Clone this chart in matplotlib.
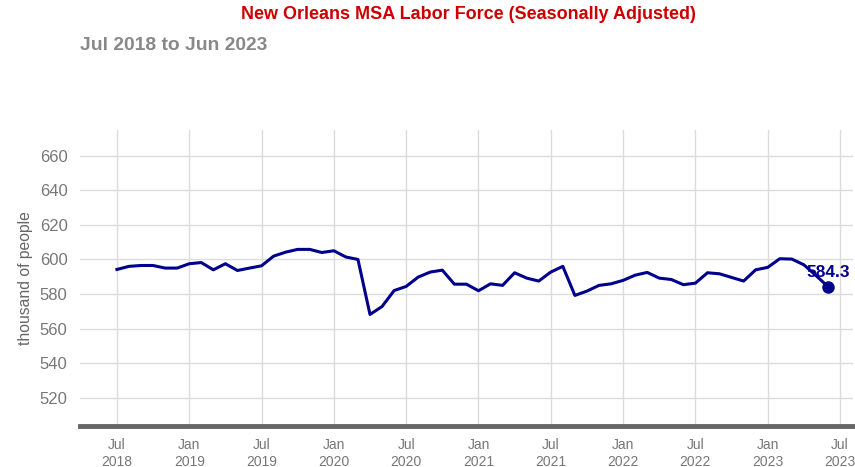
import matplotlib
matplotlib.use("Agg")
import matplotlib.pyplot as plt

plt.rcParams['font.family'] = ['Liberation Sans', 'DejaVu Sans']

# Monthly labor force, thousands, Jul 2018 - Jun 2023
labor_force = [
    594.2, 596.0, 596.5, 596.5, 595.0, 595.0,
    597.5, 598.2, 594.0, 597.5, 593.6, 595.0, 596.3, 601.9, 604.2, 605.8, 605.8, 604.0,
    605.0, 601.4, 600.0, 568.2, 572.8, 582.0, 584.4, 589.8, 592.7, 593.8, 585.7, 585.7,
    581.9, 585.9, 585.0, 592.3, 589.2, 587.5, 592.7, 596.0, 579.2, 581.7, 585.0, 585.9,
    587.9, 590.9, 592.5, 589.2, 588.4, 585.4, 586.3, 592.3, 591.7, 589.6, 587.5, 594.0,
    595.4, 600.4, 600.2, 596.9, 590.7, 584.3,
]
tick_pos = [0, 6, 12, 18, 24, 30, 36, 42, 48, 54, 60]
tick_labels = ["Jul\n2018", "Jan\n2019", "Jul\n2019", "Jan\n2020", "Jul\n2020",
               "Jan\n2021", "Jul\n2021", "Jan\n2022", "Jul\n2022", "Jan\n2023",
               "Jul\n2023"]
y_ticks = [520, 540, 560, 580, 600, 620, 640, 660]

line_color = "#00008B"
months = list(range(len(labor_force)))

fig = plt.figure(figsize=(8.55, 4.67), dpi=100)
ax = fig.add_axes([0.0936, 0.088, 0.9044, 0.6344])

ax.plot(months, labor_force, color=line_color, lw=2.2, solid_joinstyle="round", zorder=3)
ax.plot(months[-1], labor_force[-1], "o", color=line_color, ms=8, zorder=4)
ax.annotate(f"{labor_force[-1]:.1f}", (months[-1], labor_force[-1]),
            xytext=(0, 5), textcoords="offset points", ha="center", va="bottom",
            color=line_color, fontsize=12.5, fontweight="bold", zorder=5)

ax.set_xlim(-3.06, 61.1)
ax.set_ylim(503.8, 675.0)
ax.set_xticks(tick_pos)
ax.set_xticklabels(tick_labels)
ax.set_yticks(y_ticks)

ax.grid(True, color="#dcdcdc", lw=1.0)
ax.set_axisbelow(True)
for side in ("top", "right", "left"):
    ax.spines[side].set_visible(False)
ax.spines["bottom"].set_color("#666666")
ax.spines["bottom"].set_linewidth(3.5)

ax.tick_params(axis="x", length=0, pad=9, labelsize=10, labelcolor="#777777")
ax.tick_params(axis="y", length=0, pad=9, labelsize=12, labelcolor="#777777")
ax.set_ylabel("thousand of people", color="#666666", fontsize=11.3, labelpad=5)

fig.text(0.548, 0.97, "New Orleans MSA Labor Force (Seasonally Adjusted)",
         ha="center", va="center", color="#CC0000", fontsize=13, fontweight="bold")
fig.text(0.0936, 0.903, "Jul 2018 to Jun 2023", ha="left", va="center",
         color="#888888", fontsize=13.9, fontweight="bold")

fig.savefig("out.png", dpi=100)
